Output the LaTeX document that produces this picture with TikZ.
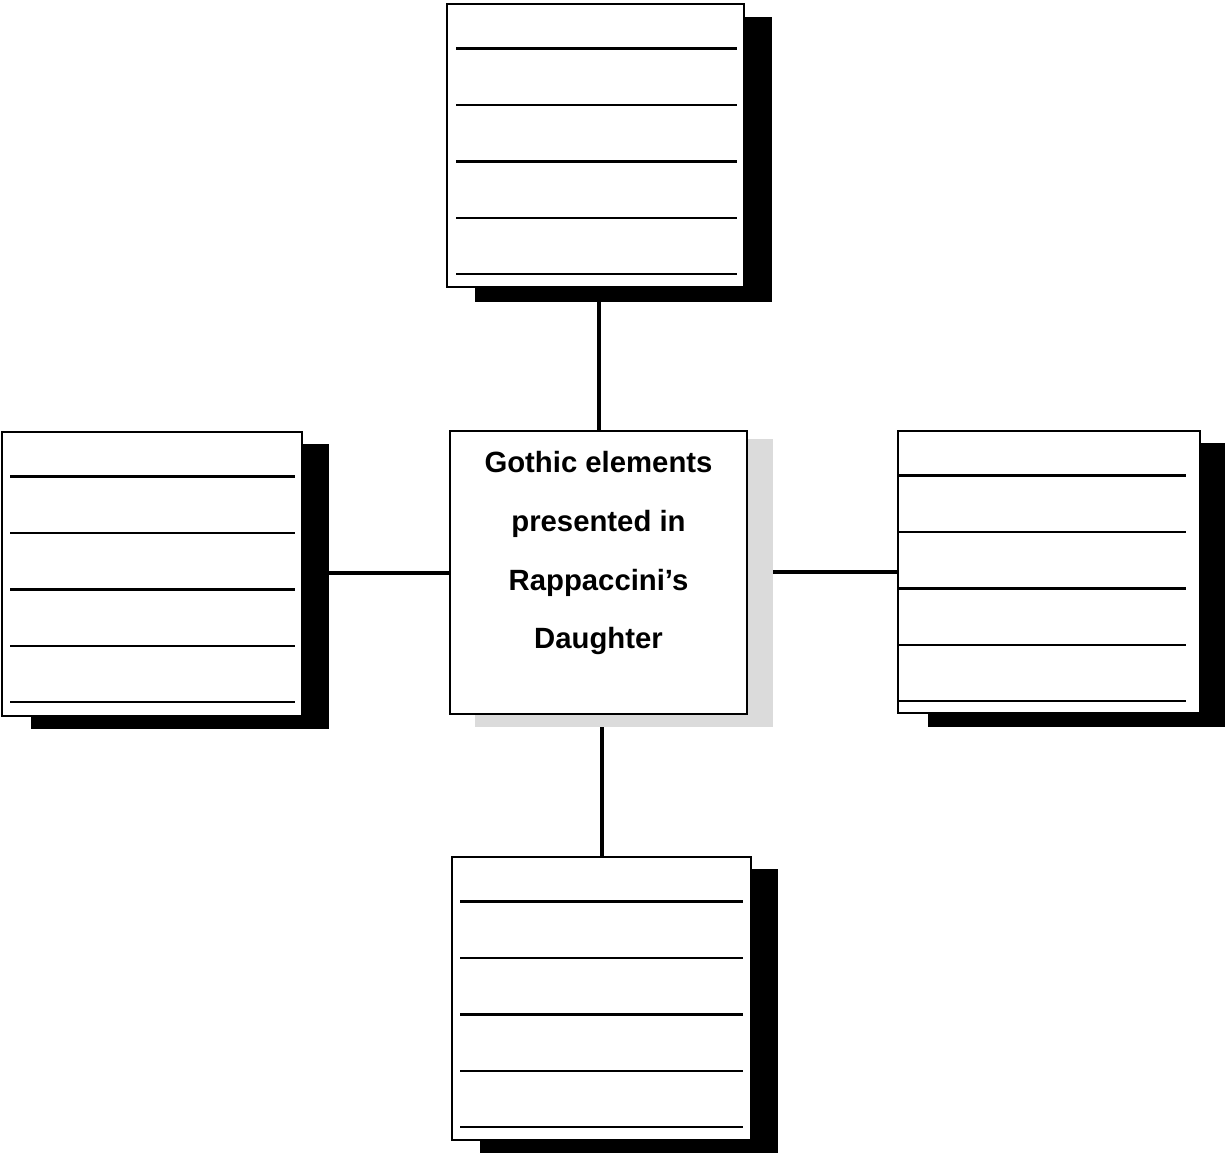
\documentclass[tikz,border=0pt]{standalone}
\usepackage{fontspec}
\setmainfont{Liberation Sans}
\usetikzlibrary{calc}
\begin{document}
\begin{tikzpicture}[x=1pt,y=-1pt,
  panel/.style={draw=black, line width=2pt, fill=white, inner sep=0pt, outer sep=0pt},
  shadowblk/.style={fill=black, draw=none, inner sep=0pt, outer sep=0pt},
  shadowgrey/.style={fill=black!14, draw=none, inner sep=0pt, outer sep=0pt},
  rule/.style={line width=2.4pt},
  link/.style={line width=4pt},
  title/.style={inner sep=0pt, align=center, font=\fontsize{29.3}{58.8}\selectfont\bfseries}]
\useasboundingbox (0,0) rectangle (1225,1152);
% shadows
\node[shadowblk, minimum width=297, minimum height=285] (topS) at (623.5,159.5) {};
\node[shadowblk, minimum width=298, minimum height=285] (leftS) at (180,586.5) {};
\node[shadowblk, minimum width=302, minimum height=284] (rightS) at (1079,585) {};
\node[shadowblk, minimum width=298, minimum height=290] (botS) at (629,1014) {};
\node[shadowgrey, minimum width=298, minimum height=288] (ctrS) at (624,583) {};
% boxes
\node[panel, minimum width=297, minimum height=283] (top) at (595.5,145.5) {};
\node[panel, minimum width=300, minimum height=284] (left) at (152,574) {};
\node[panel, minimum width=297, minimum height=283] (ctr) at (598.5,572.5) {};
\node[panel, minimum width=302, minimum height=282] (right) at (1049,572) {};
\node[panel, minimum width=299, minimum height=283] (bot) at (601.5,998.5) {};
% ruled lines
\foreach \b/\l/\r in {top/9/7, left/8/7, right/0/14, bot/8/8}{
  \foreach \i in {0,...,4}{
    \draw[rule] ($(\b.north west)+(\l,44.5+56.4*\i)$) -- ($(\b.north east)+(-\r,44.5+56.4*\i)$);
  }
}
% title
\node[title, anchor=north] (ttl) at (598.5,451) {Gothic elements\\presented in\\Rappaccini’s\\Daughter};
% connectors
\draw[link] (ctr.north) -- (ctr.north |- topS.south);
\draw[link] (bot.north) -- (bot.north |- ctrS.south);
\draw[link] (ctr.west) -- (ctr.west -| leftS.east);
\draw[link] (right.west) -- (right.west -| ctrS.east);
\end{tikzpicture}
\end{document}
